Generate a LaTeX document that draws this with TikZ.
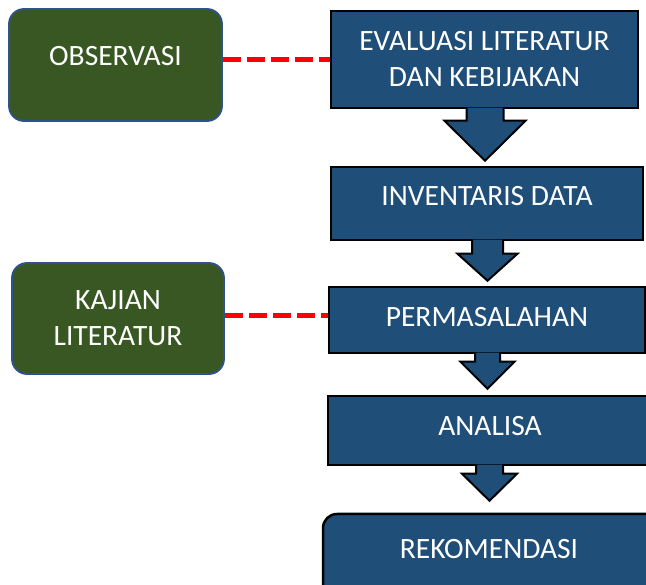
\documentclass[tikz,border=0pt]{standalone}
\usepackage{fontspec}
\setmainfont{Carlito}
\usetikzlibrary{calc}
\definecolor{boxblue}{HTML}{1F4E79}
\definecolor{boxgreen}{HTML}{385723}
\definecolor{greenborder}{HTML}{2F528F}
\newcommand\blockarrow[7]{%
  \path[fill=boxblue, draw=black, line width=2pt, line join=miter]
    let \p1=(#1.south), \p2=(#2.north) in
    (#3pt-#4pt, \y1+1.5pt) -- (#3pt-#4pt, \y2+#7pt+#6pt) -- (#3pt-#5pt, \y2+#7pt+#6pt)
    -- (#3pt, \y2+#7pt) -- (#3pt+#5pt, \y2+#7pt+#6pt) -- (#3pt+#4pt, \y2+#7pt+#6pt)
    -- (#3pt+#4pt, \y1+1.5pt);
}
\begin{document}
\begin{tikzpicture}[x=1pt, y=-1pt,
  txt/.style={text=white, font=\fontsize{29.5}{36}\selectfont, align=center, inner sep=0pt},
  greenbox/.style={txt, fill=boxgreen, draw=greenborder, line width=1.8pt, rounded corners=15pt},
  bluebox/.style={txt, fill=boxblue, draw=black, line width=2.5pt},
  lift/.style={text depth=#1},
  link/.style={draw=red, line width=5pt, dash pattern=on 18pt off 6pt}]
\useasboundingbox (0,0) rectangle (646,585);
% side boxes
\node[greenbox, minimum width=213pt, minimum height=112pt, lift=19pt] (obs) at (115.5,65) {OBSERVASI};
\node[greenbox, minimum width=212pt, minimum height=111pt] (kaj) at (118,318.5) {KAJIAN\\LITERATUR};
% dashed links (behind the main boxes)
\path[link] (obs.east |- 0,60) -- (333,60) coordinate (l1end);
\path[link] (kaj.east |- 0,316) -- (333,316) coordinate (l2end);
% main flow
\node[bluebox, minimum width=307pt, minimum height=97pt] (eval) at (484.5,59.5) {EVALUASI LITERATUR\\DAN KEBIJAKAN};
\node[bluebox, minimum width=312pt, minimum height=73pt, lift=15pt] (inv) at (487,203.5) {INVENTARIS DATA};
\node[bluebox, minimum width=316pt, minimum height=66pt, lift=7pt] (perm) at (487,320) {PERMASALAHAN};
\node[bluebox, minimum width=336pt, minimum height=69pt, lift=9pt] (ana) at (496,430.5) {ANALISA\hspace*{12pt}};
\node[bluebox, rounded corners=14pt, minimum width=344pt, minimum height=86pt, lift=17pt] (rek) at (495,557) {REKOMENDASI\hspace*{12pt}};
% block arrows
\blockarrow{eval}{inv}{485}{18.5}{40.5}{40}{5}
\blockarrow{inv}{perm}{487.5}{15.5}{30}{27}{5}
\blockarrow{perm}{ana}{487.5}{12.5}{27}{27}{6}
\blockarrow{ana}{rek}{489.5}{13.5}{27.5}{27}{12}
\end{tikzpicture}
\end{document}
